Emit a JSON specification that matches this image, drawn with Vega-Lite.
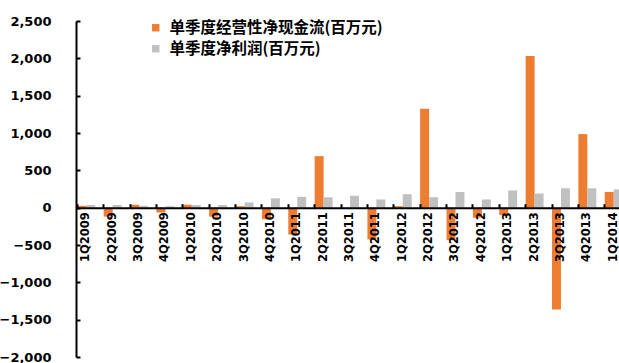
{
  "$schema": "https://vega.github.io/schema/vega-lite/v6.json",
  "autosize": {"type": "none"},
  "padding": {"left": 76, "top": 21, "right": 0, "bottom": 6},
  "width": 548,
  "height": 336,
  "background": "white",
  "data": {
    "values": [
      {"q": "1Q2009", "s": "单季度经营性净现金流(百万元)", "v": 25},
      {"q": "1Q2009", "s": "单季度净利润(百万元)", "v": 35},
      {"q": "2Q2009", "s": "单季度经营性净现金流(百万元)", "v": -120},
      {"q": "2Q2009", "s": "单季度净利润(百万元)", "v": 35},
      {"q": "3Q2009", "s": "单季度经营性净现金流(百万元)", "v": 40},
      {"q": "3Q2009", "s": "单季度净利润(百万元)", "v": 25},
      {"q": "4Q2009", "s": "单季度经营性净现金流(百万元)", "v": -65},
      {"q": "4Q2009", "s": "单季度净利润(百万元)", "v": 20},
      {"q": "1Q2010", "s": "单季度经营性净现金流(百万元)", "v": 40},
      {"q": "1Q2010", "s": "单季度净利润(百万元)", "v": 35},
      {"q": "2Q2010", "s": "单季度经营性净现金流(百万元)", "v": -120},
      {"q": "2Q2010", "s": "单季度净利润(百万元)", "v": 35},
      {"q": "3Q2010", "s": "单季度经营性净现金流(百万元)", "v": 20},
      {"q": "3Q2010", "s": "单季度净利润(百万元)", "v": 70},
      {"q": "4Q2010", "s": "单季度经营性净现金流(百万元)", "v": -155},
      {"q": "4Q2010", "s": "单季度净利润(百万元)", "v": 125},
      {"q": "1Q2011", "s": "单季度经营性净现金流(百万元)", "v": -360},
      {"q": "1Q2011", "s": "单季度净利润(百万元)", "v": 145},
      {"q": "2Q2011", "s": "单季度经营性净现金流(百万元)", "v": 690},
      {"q": "2Q2011", "s": "单季度净利润(百万元)", "v": 140},
      {"q": "3Q2011", "s": "单季度经营性净现金流(百万元)", "v": 3},
      {"q": "3Q2011", "s": "单季度净利润(百万元)", "v": 160},
      {"q": "4Q2011", "s": "单季度经营性净现金流(百万元)", "v": -425},
      {"q": "4Q2011", "s": "单季度净利润(百万元)", "v": 110},
      {"q": "1Q2012", "s": "单季度经营性净现金流(百万元)", "v": 20},
      {"q": "1Q2012", "s": "单季度净利润(百万元)", "v": 180},
      {"q": "2Q2012", "s": "单季度经营性净现金流(百万元)", "v": 1325},
      {"q": "2Q2012", "s": "单季度净利润(百万元)", "v": 140},
      {"q": "3Q2012", "s": "单季度经营性净现金流(百万元)", "v": -435},
      {"q": "3Q2012", "s": "单季度净利润(百万元)", "v": 210},
      {"q": "4Q2012", "s": "单季度经营性净现金流(百万元)", "v": -135},
      {"q": "4Q2012", "s": "单季度净利润(百万元)", "v": 110},
      {"q": "1Q2013", "s": "单季度经营性净现金流(百万元)", "v": -100},
      {"q": "1Q2013", "s": "单季度净利润(百万元)", "v": 230},
      {"q": "2Q2013", "s": "单季度经营性净现金流(百万元)", "v": 2030},
      {"q": "2Q2013", "s": "单季度净利润(百万元)", "v": 190},
      {"q": "3Q2013", "s": "单季度经营性净现金流(百万元)", "v": -1365},
      {"q": "3Q2013", "s": "单季度净利润(百万元)", "v": 260},
      {"q": "4Q2013", "s": "单季度经营性净现金流(百万元)", "v": 985},
      {"q": "4Q2013", "s": "单季度净利润(百万元)", "v": 260},
      {"q": "1Q2014", "s": "单季度经营性净现金流(百万元)", "v": 210},
      {"q": "1Q2014", "s": "单季度净利润(百万元)", "v": 245}
    ]
  },
  "mark": {"type": "bar"},
  "encoding": {
    "x": {
      "field": "q",
      "type": "nominal",
      "sort": null,
      "scale": {"paddingInner": 0.32, "paddingOuter": 0.05},
      "axis": {
        "title": null,
        "orient": "bottom",
        "offset": -149.3,
        "zindex": 1,
        "labelAngle": -90,
        "labelFont": "DejaVu Sans",
        "labelFontWeight": "bold",
        "labelFontSize": 11.5,
        "labelColor": "black",
        "labelPadding": 8,
        "bandPosition": 0,
        "tickSize": -4,
        "tickColor": "black",
        "tickWidth": 2,
        "domainColor": "black",
        "domainWidth": 2,
        "grid": false
      }
    },
    "xOffset": {"field": "s", "type": "nominal", "sort": ["单季度经营性净现金流(百万元)", "单季度净利润(百万元)"], "scale": {"paddingInner": 0}},
    "y": {
      "field": "v",
      "type": "quantitative",
      "scale": {"domain": [-2000, 2500], "nice": false, "zero": false},
      "axis": {
        "title": null,
        "values": [-2000, -1500, -1000, -500, 0, 500, 1000, 1500, 2000, 2500],
        "format": ",.0f",
        "grid": false,
        "labelFont": "DejaVu Sans",
        "labelFontWeight": "bold",
        "labelFontSize": 13,
        "labelColor": "black",
        "labelPadding": 29,
        "tickSize": -4,
        "tickColor": "black",
        "tickWidth": 2,
        "domainColor": "black",
        "domainWidth": 2
      }
    },
    "color": {
      "field": "s",
      "type": "nominal",
      "sort": ["单季度经营性净现金流(百万元)", "单季度净利润(百万元)"],
      "scale": {"range": ["#ED7D31", "#C0C0C0"]},
      "legend": {
        "title": null,
        "orient": "none",
        "legendX": 72,
        "legendY": -1,
        "direction": "vertical",
        "symbolType": "square",
        "symbolSize": 55,
        "symbolStrokeWidth": 0,
        "labelFont": "Noto Sans CJK SC",
        "labelFontWeight": "bold",
        "labelFontSize": 15.5,
        "labelColor": "black",
        "labelLimit": 400,
        "labelOffset": 6,
        "rowPadding": 4
      }
    }
  },
  "config": {"view": {"stroke": null}}
}
